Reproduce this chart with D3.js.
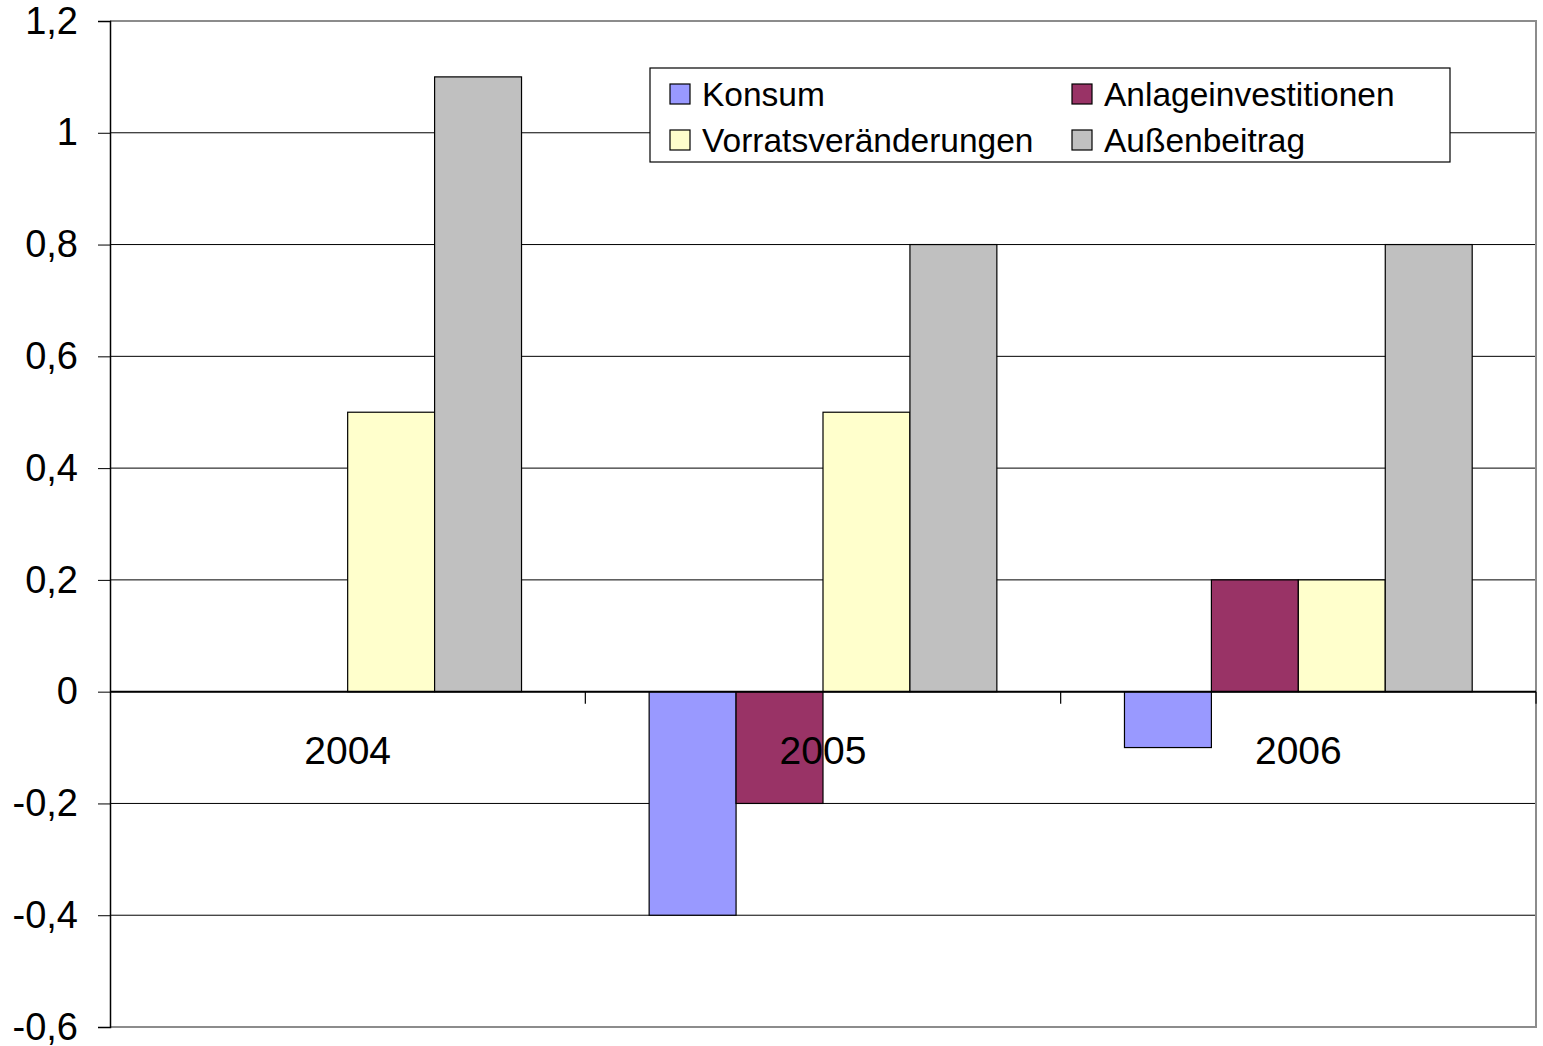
<!DOCTYPE html>
<html>
<head>
<meta charset="utf-8">
<script src="https://cdn.jsdelivr.net/npm/d3@7"></script>
<style>
  body { margin: 0; background: #fff; }
  text { font-family: "Liberation Sans", Arial, sans-serif; }
</style>
</head>
<body>
<div id="chart"></div>
<script>
var width = 1543, height = 1046;

var years = ['2004', '2005', '2006'];
var seriesNames = ['Konsum', 'Anlageinvestitionen', 'Vorratsveränderungen', 'Außenbeitrag'];
var konsum = [0, -0.4, -0.1];
var anlage = [0, -0.2, 0.2];
var vorrat = [0.5, 0.5, 0.2];
var aussen = [1.1, 0.8, 0.8];
var yTicks = [-0.6, -0.4, -0.2, 0, 0.2, 0.4, 0.6, 0.8, 1, 1.2];
var colors = ['#9999ff', '#993366', '#ffffcc', '#c0c0c0'];

var values = [konsum, anlage, vorrat, aussen];

var margin = {left: 110, right: 7, top: 21, bottom: 19};

var svg = d3.select('#chart').append('svg')
  .attr('width', width)
  .attr('height', height);

var x = d3.scaleBand()
  .domain(years)
  .range([margin.left, width - margin.right])
  .paddingInner(0)
  .paddingOuter(0);

var inner = d3.scaleBand()
  .domain(seriesNames)
  .range([0, x.bandwidth()])
  .paddingOuter(0.734)
  .paddingInner(0);

var y = d3.scaleLinear()
  .domain([-0.6, 1.2])
  .range([height - margin.bottom, margin.top]);

var fmt = function(d) { return String(d).replace('.', ','); };

// gridlines
svg.append('g').selectAll('line')
  .data(yTicks.filter(function(d) { return d > -0.6 && d < 1.2; }))
  .enter().append('line')
  .attr('x1', margin.left).attr('x2', width - margin.right)
  .attr('y1', function(d) { return y(d); })
  .attr('y2', function(d) { return y(d); })
  .attr('stroke', '#000')
  .attr('stroke-width', 1);

// plot border (top, right, bottom)
svg.append('path')
  .attr('d', 'M' + margin.left + ',' + y(1.2) + 'H' + (width - margin.right) +
    'V' + y(-0.6) + 'H' + margin.left)
  .attr('fill', 'none')
  .attr('stroke', '#8c8c8c')
  .attr('stroke-width', 2);

// bars
seriesNames.forEach(function(name, si) {
  var rows = years.map(function(yr, i) { return {year: yr, value: values[si][i]}; })
    .filter(function(d) { return d.value !== 0; });
  svg.append('g').selectAll('rect')
    .data(rows)
    .enter().append('rect')
    .attr('x', function(d) { return x(d.year) + inner(name); })
    .attr('width', inner.bandwidth())
    .attr('y', function(d) { return y(Math.max(0, d.value)); })
    .attr('height', function(d) { return Math.abs(y(d.value) - y(0)); })
    .attr('fill', colors[si])
    .attr('stroke', '#000')
    .attr('stroke-width', 1.2);
});

// y axis
var yAxis = svg.append('g')
  .attr('transform', 'translate(' + margin.left + ',0)')
  .call(d3.axisLeft(y).tickValues(yTicks).tickFormat(fmt).tickSize(12).tickPadding(20));
yAxis.select('.domain').attr('stroke', '#000').attr('stroke-width', 1.5);
yAxis.selectAll('.tick line').attr('stroke', '#000');
yAxis.selectAll('text')
  .style('font-family', '"Liberation Sans", Arial, sans-serif')
  .style('font-size', '38px')
  .attr('fill', '#000');

// zero axis with category ticks
svg.append('line')
  .attr('x1', margin.left).attr('x2', width - margin.right)
  .attr('y1', y(0)).attr('y2', y(0))
  .attr('stroke', '#000').attr('stroke-width', 2);

svg.append('g').selectAll('line')
  .data(years.slice(1).map(function(d) { return x(d); }).concat([width - margin.right]))
  .enter().append('line')
  .attr('x1', function(d) { return d; }).attr('x2', function(d) { return d; })
  .attr('y1', y(0)).attr('y2', y(0) + 12)
  .attr('stroke', '#000').attr('stroke-width', 1.2);

svg.append('g').selectAll('text')
  .data(years)
  .enter().append('text')
  .attr('x', function(d) { return x(d) + x.bandwidth() / 2; })
  .attr('y', y(0) + 72)
  .attr('text-anchor', 'middle')
  .style('font-size', '39px')
  .text(function(d) { return d; });

// legend
var legend = svg.append('g').attr('transform', 'translate(650,68)');
legend.append('rect')
  .attr('width', 800).attr('height', 94)
  .attr('fill', '#fff').attr('stroke', '#000').attr('stroke-width', 1.2);

var items = legend.selectAll('g.item')
  .data(seriesNames)
  .enter().append('g')
  .attr('class', 'item')
  .attr('transform', function(d, i) {
    return 'translate(' + (i % 2 === 0 ? 20 : 422) + ',' + (i < 2 ? 16 : 62) + ')';
  });
items.append('rect')
  .attr('width', 20).attr('height', 20)
  .attr('fill', function(d, i) { return colors[i]; })
  .attr('stroke', '#000').attr('stroke-width', 1.2);
items.append('text')
  .attr('x', 32).attr('y', 22)
  .style('font-size', '33.5px')
  .text(function(d) { return d; });
</script>
</body>
</html>
